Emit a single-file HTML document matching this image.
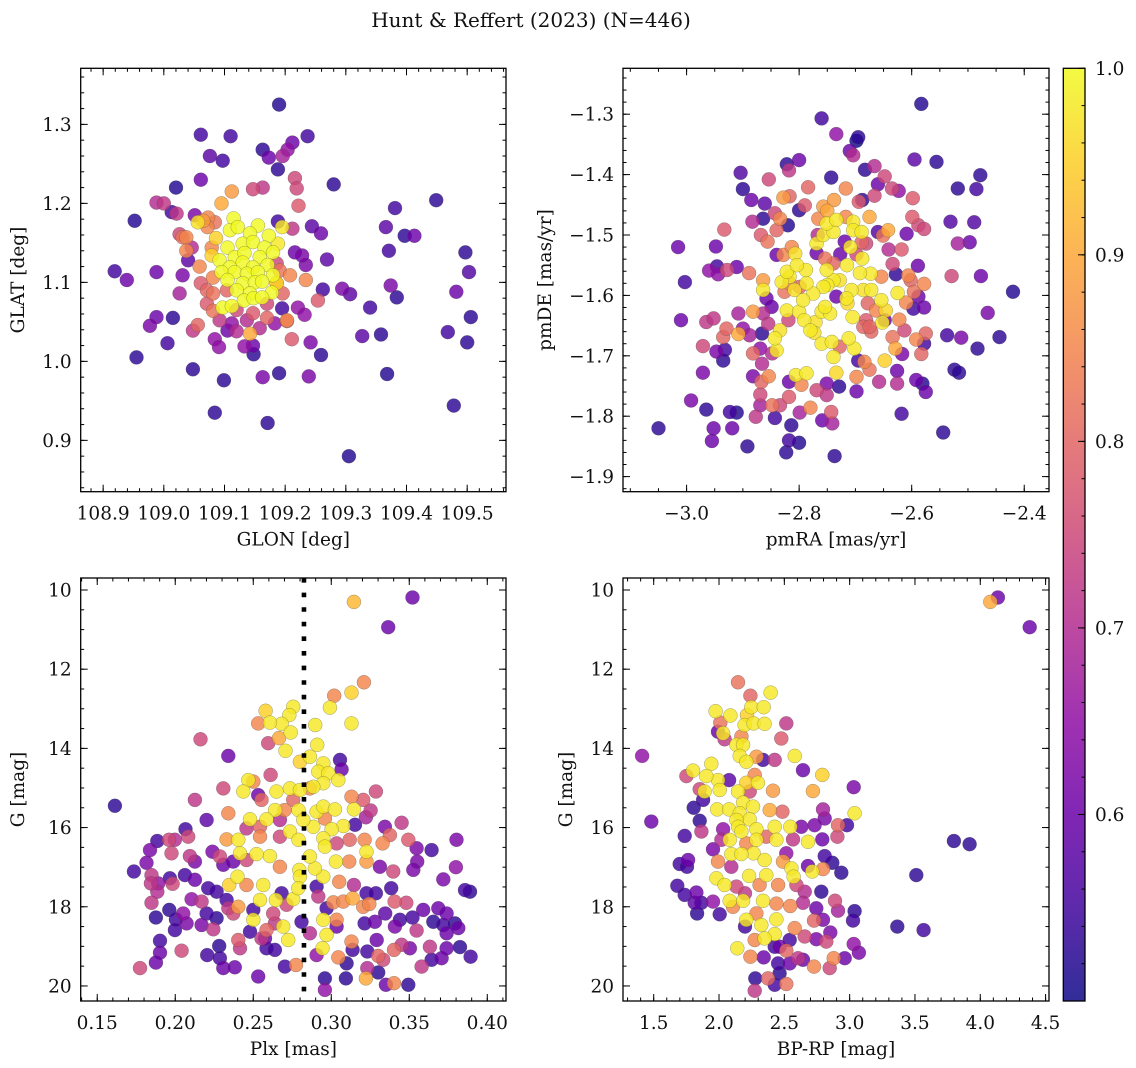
<!DOCTYPE html>
<html><head><meta charset="utf-8">
<style>
html,body{margin:0;padding:0;background:#fff;}
svg{display:block;}
text{font-family:"DejaVu Serif","Liberation Serif",serif;fill:#111;}
</style></head>
<body>
<svg id="fig" width="1136" height="1068" viewBox="0 0 1136 1068" xmlns="http://www.w3.org/2000/svg">
<rect width="1136" height="1068" fill="#fff"/>
<text x="531" y="27" font-size="20" text-anchor="middle">Hunt &amp; Reffert (2023) (N=446)</text>
</svg>
<script>
// ---- data: [x, y, membership probability] ----
const glonGlat = [[109.190,1.325,.52],[109.061,1.287,.55],[109.110,1.285,.55],[109.237,1.285,.55],[109.163,1.268,.53],[109.212,1.277,.6],[109.204,1.268,.65],[109.196,1.26,.68],[109.173,1.258,.6],[109.076,1.26,.58],[109.097,1.254,.55],[109.188,1.243,.53],[109.061,1.23,.6],[109.020,1.22,.52],[109.280,1.224,.53],[109.216,1.232,.75],[109.219,1.219,.75],[109.163,1.22,.72],[109.147,1.218,.75],[109.112,1.215,.88],[109.095,1.2,.9],[109.222,1.197,.78],[108.988,1.201,.7],[109.0,1.2,.72],[108.952,1.178,.52],[109.449,1.204,.53],[109.381,1.194,.55],[109.366,1.17,.58],[109.397,1.159,.53],[109.413,1.159,.6],[109.371,1.14,.55],[109.497,1.138,.53],[109.503,1.113,.57],[109.374,1.096,.62],[109.384,1.081,.53],[109.482,1.088,.6],[109.506,1.056,.53],[109.468,1.037,.55],[109.5,1.024,.53],[109.478,0.944,.53],[109.368,0.984,.52],[109.358,1.034,.53],[109.327,1.032,.58],[109.34,1.068,.55],[109.307,1.085,.58],[109.294,1.092,.62],[109.305,0.88,.52],[108.919,1.114,.55],[108.939,1.103,.6],[108.988,1.113,.6],[109.031,1.109,.62],[109.026,1.086,.68],[108.988,1.056,.6],[108.977,1.045,.62],[109.015,1.055,.53],[109.006,1.023,.55],[108.955,1.005,.53],[109.048,0.99,.53],[109.099,0.976,.53],[109.084,0.935,.53],[109.171,0.922,.53],[109.163,0.98,.62],[109.19,0.985,.53],[109.239,0.981,.62],[109.259,1.008,.53],[109.242,1.024,.62],[109.211,1.028,.78],[109.148,1.009,.53],[109.133,1.019,.65],[109.147,1.02,.6],[109.084,1.028,.65],[109.091,1.018,.65],[109.142,1.035,.9],[109.105,1.039,.6],[109.12,1.038,.7],[109.048,1.039,.72],[109.056,1.046,.8],[109.183,1.048,.65],[109.203,1.051,.8],[109.17,1.055,.8],[109.158,1.042,.7],[109.221,1.068,.65],[109.232,1.059,.65],[109.254,1.077,.78],[109.262,1.091,.55],[109.195,1.067,.55],[109.234,1.103,.85],[109.208,1.109,.85],[109.269,1.129,.58],[109.234,1.122,.62],[109.228,1.134,.62],[109.216,1.138,.6],[109.259,1.162,.6],[109.244,1.171,.58],[109.212,1.168,.72],[109.188,1.177,.55],[109.051,1.185,.62],[109.021,1.187,.72],[109.013,1.189,.55],[109.026,1.161,.75],[109.037,1.157,.85],[109.04,1.128,.58],[109.059,1.12,.85],[109.037,1.14,.85],[109.061,1.099,.78],[109.073,1.182,.85],[109.065,1.178,.88],[109.084,1.176,.82],[109.086,1.156,.95],[109.056,1.176,.97],[109.071,1.09,.8],[109.081,1.086,.82],[109.081,1.064,.82],[109.071,1.073,.78],[109.17,1.073,.75],[109.196,1.086,.8],[109.186,1.099,.88],[109.203,1.052,.85],
[109.115,1.181,1],[109.109,1.166,1],[109.122,1.17,1],[109.155,1.172,1],[109.195,1.17,.98],[109.142,1.162,1],[109.13,1.149,1],[109.173,1.159,1],[109.188,1.149,.98],[109.105,1.144,1],[109.147,1.151,1],[109.166,1.144,1],[109.18,1.138,1],[109.117,1.132,1],[109.133,1.137,1],[109.158,1.132,1],[109.079,1.134,.95],[109.092,1.128,1],[109.13,1.125,1],[109.147,1.119,1],[109.171,1.122,1],[109.109,1.119,1],[109.095,1.113,1],[109.117,1.113,1],[109.137,1.111,1],[109.155,1.113,1],[109.18,1.109,1],[109.105,1.103,1],[109.13,1.099,1],[109.15,1.1,1],[109.162,1.101,1],[109.186,1.099,.95],[109.12,1.09,1],[109.142,1.086,1],[109.178,1.087,1],[109.132,1.077,1],[109.148,1.08,1],[109.097,1.068,1],[109.112,1.07,1],[109.162,1.081,1],
[109.072,1.17,.85],[109.031,1.157,.82],[109.046,1.144,.7],[109.079,1.144,.85],[109.081,1.106,.85],[109.104,1.09,.8],[109.12,1.065,.75],[109.147,1.061,.78],[109.191,1.115,.82],[109.186,1.124,.75],[109.092,1.052,.72],[109.137,1.052,.7],[109.112,1.048,.65]];

const pmRaDe = [[-2.583,-1.283,.52],[-2.76,-1.307,.55],[-2.734,-1.333,.65],[-2.695,-1.338,.53],[-2.698,-1.344,.5],[-2.71,-1.361,.6],[-2.704,-1.368,.7],[-2.822,-1.383,.53],[-2.8,-1.376,.6],[-2.818,-1.393,.72],[-2.904,-1.397,.57],[-2.854,-1.408,.75],[-2.743,-1.405,.53],[-2.9,-1.424,.53],[-2.885,-1.442,.6],[-2.861,-1.448,.58],[-2.595,-1.375,.58],[-2.556,-1.379,.53],[-2.666,-1.386,.7],[-2.683,-1.392,.53],[-2.648,-1.403,.75],[-2.66,-1.416,.6],[-2.635,-1.423,.75],[-2.623,-1.427,.65],[-2.666,-1.435,.75],[-2.598,-1.439,.78],[-2.717,-1.423,.85],[-2.784,-1.421,.8],[-2.817,-1.436,.8],[-2.828,-1.438,.88],[-2.478,-1.401,.53],[-2.518,-1.423,.53],[-2.485,-1.424,.55],[-2.531,-1.478,.57],[-2.489,-1.479,.57],[-2.518,-1.514,.68],[-2.497,-1.512,.6],[-2.529,-1.568,.75],[-2.477,-1.568,.6],[-2.42,-1.594,.52],[-2.465,-1.629,.62],[-2.444,-1.669,.53],[-2.483,-1.688,.53],[-2.537,-1.666,.55],[-2.512,-1.67,.62],[-2.524,-1.723,.53],[-2.516,-1.728,.53],[-2.544,-1.827,.53],[-2.618,-1.796,.55],[-2.575,-1.76,.6],[-2.592,-1.74,.6],[-2.626,-1.746,.7],[-2.626,-1.725,.6],[-2.581,-1.746,.52],[-2.658,-1.743,.7],[-2.698,-1.759,.6],[-2.737,-1.866,.53],[-2.823,-1.86,.53],[-2.818,-1.84,.55],[-2.8,-1.844,.52],[-2.814,-1.815,.53],[-2.843,-1.803,.55],[-2.892,-1.85,.53],[-2.919,-1.82,.6],[-2.952,-1.82,.6],[-2.955,-1.841,.6],[-3.05,-1.82,.53],[-2.965,-1.789,.53],[-2.992,-1.774,.62],[-2.923,-1.793,.55],[-2.911,-1.794,.52],[-2.877,-1.801,.72],[-2.869,-1.782,.68],[-2.869,-1.764,.75],[-2.971,-1.728,.62],[-2.935,-1.708,.53],[-2.947,-1.693,.62],[-2.932,-1.69,.55],[-2.971,-1.684,.75],[-3.01,-1.641,.6],[-2.965,-1.644,.72],[-2.952,-1.638,.72],[-3.003,-1.578,.55],[-3.015,-1.52,.6],[-2.948,-1.519,.6],[-2.96,-1.559,.65],[-2.946,-1.552,.55],[-2.944,-1.565,.65],[-2.928,-1.558,.75],[-2.911,-1.553,.6],[-2.889,-1.563,.82],[-2.933,-1.491,.78],[-2.883,-1.478,.7],[-2.864,-1.473,.53],[-2.868,-1.5,.78],[-2.856,-1.511,.82],[-2.834,-1.473,.85],[-2.82,-1.484,.52],[-2.843,-1.464,.75],[-2.84,-1.492,.8],[-2.8,-1.459,.53],[-2.79,-1.451,.78],[-2.757,-1.453,.88],[-2.738,-1.442,.88],[-2.75,-1.46,.9],[-2.694,-1.445,.78],[-2.688,-1.442,.53],[-2.675,-1.47,.9],[-2.66,-1.495,.57],[-2.651,-1.501,.82],[-2.642,-1.492,.9],[-2.609,-1.498,.6],[-2.599,-1.47,.78],[-2.588,-1.484,.75],[-2.578,-1.49,.75],[-2.641,-1.524,.7],[-2.618,-1.524,.78],[-2.589,-1.551,.6],[-2.634,-1.548,.75],[-2.628,-1.565,.53],[-2.606,-1.567,.85],[-2.602,-1.575,.8],[-2.578,-1.581,.85],[-2.596,-1.594,.82],[-2.588,-1.602,.6],[-2.625,-1.596,.98],[-2.61,-1.612,.85],[-2.597,-1.622,.55],[-2.578,-1.62,.6],[-2.622,-1.64,.85],[-2.613,-1.658,.75],[-2.575,-1.663,.8],[-2.592,-1.673,.85],[-2.578,-1.68,.55],[-2.583,-1.697,.8],[-2.617,-1.697,.62],[-2.629,-1.688,.9],[-2.634,-1.669,.82],[-2.648,-1.708,.95],[-2.648,-1.641,.6],[-2.652,-1.645,.98],[-2.672,-1.66,.8],[-2.686,-1.652,.8],[-2.695,-1.708,.55],[-2.684,-1.71,.85],[-2.675,-1.723,.82],[-2.698,-1.735,.85],[-2.734,-1.728,.96],[-2.729,-1.751,.53],[-2.751,-1.746,.62],[-2.751,-1.765,.72],[-2.769,-1.757,.75],[-2.743,-1.793,.78],[-2.741,-1.812,.68],[-2.759,-1.807,.6],[-2.78,-1.786,.85],[-2.799,-1.794,.68],[-2.818,-1.768,.78],[-2.834,-1.782,.75],[-2.848,-1.782,.82],[-2.818,-1.743,.6],[-2.796,-1.748,.85],[-2.806,-1.732,.98],[-2.787,-1.729,.98],[-2.854,-1.734,.85],[-2.882,-1.734,.62],[-2.867,-1.743,.8],[-2.866,-1.713,.7],[-2.882,-1.696,.8],[-2.869,-1.688,.65],[-2.848,-1.696,.7],[-2.84,-1.691,.98],[-2.843,-1.671,.98],[-2.834,-1.658,.97],[-2.866,-1.663,.53],[-2.888,-1.666,.68],[-2.908,-1.664,.9],[-2.935,-1.669,.8],[-2.929,-1.655,.8],[-2.9,-1.655,.65],[-2.908,-1.63,.68],[-2.882,-1.627,.88],[-2.864,-1.63,.7],[-2.855,-1.647,.72],[-2.822,-1.625,.98],[-2.8,-1.627,.98],[-2.791,-1.641,.98],[-2.78,-1.658,.98],[-2.771,-1.644,.97],[-2.76,-1.627,.98],[-2.745,-1.63,.98],[-2.754,-1.619,.98],[-2.773,-1.662,.97],[-2.76,-1.68,.98],[-2.742,-1.677,.98],[-2.739,-1.702,.98],[-2.728,-1.685,.8],[-2.702,-1.688,.98],[-2.712,-1.671,.98],[-2.714,-1.613,.96],[-2.705,-1.636,.98],[-2.681,-1.641,.78],[-2.675,-1.652,.8],[-2.654,-1.608,.98],[-2.646,-1.625,.96],[-2.663,-1.625,.85],[-2.678,-1.613,.8],[-2.686,-1.591,.97],[-2.672,-1.591,.98],[-2.673,-1.564,.98],[-2.692,-1.563,.98],[-2.654,-1.569,.85],[-2.707,-1.591,.98],[-2.716,-1.605,.98],[-2.734,-1.602,.6],[-2.728,-1.575,.97],[-2.739,-1.575,.98],[-2.75,-1.583,.98],[-2.757,-1.586,.98],[-2.775,-1.597,.98],[-2.793,-1.608,.98],[-2.808,-1.591,.97],[-2.787,-1.58,.98],[-2.799,-1.586,.8],[-2.817,-1.58,.85],[-2.826,-1.594,.82],[-2.817,-1.569,.98],[-2.831,-1.578,.98],[-2.822,-1.561,.98],[-2.788,-1.558,.98],[-2.804,-1.55,.98],[-2.807,-1.531,.97],[-2.828,-1.533,.85],[-2.813,-1.52,.85],[-2.84,-1.533,.6],[-2.864,-1.575,.88],[-2.864,-1.591,.98],[-2.858,-1.605,.6],[-2.849,-1.619,.6],[-2.819,-1.641,.75],[-2.769,-1.53,.6],[-2.751,-1.558,.98],[-2.739,-1.547,.8],[-2.754,-1.539,.82],[-2.715,-1.55,.98],[-2.709,-1.52,.98],[-2.727,-1.532,.6],[-2.698,-1.532,.75],[-2.688,-1.539,.98],[-2.681,-1.514,.75],[-2.769,-1.514,.98],[-2.757,-1.5,.98],[-2.739,-1.495,.98],[-2.751,-1.481,.98],[-2.734,-1.475,.98],[-2.717,-1.47,.85],[-2.704,-1.478,.98],[-2.704,-1.492,.98],[-2.689,-1.495,.98],[-2.689,-1.512,.8],[-2.719,-1.511,.6],[-2.767,-1.5,.7],[-2.766,-1.473,.85]];

const plxG = [[0.1613,15.45,.53],[0.3521,10.19,.6],[0.3145,10.30,.92],[0.3365,10.94,.6],[0.3209,12.33,.85],[0.313,12.59,.95],[0.313,13.37,.98],[0.3019,12.67,.85],[0.2991,12.97,.98],[0.2897,13.41,.98],[0.291,13.91,.98],[0.2579,13.05,.95],[0.2756,12.95,.98],[0.2731,13.16,.98],[0.2682,13.38,.98],[0.2607,13.35,.98],[0.2532,13.37,.85],[0.274,13.6,.98],[0.2665,13.74,.9],[0.2596,13.87,.75],[0.2707,14.06,.98],[0.2162,13.77,.75],[0.234,14.19,.6],[0.2799,14.34,.95],[0.2863,14.21,.98],[0.2949,14.38,.98],[0.3056,14.29,.55],[0.3066,14.53,.6],[0.2917,14.59,.98],[0.2981,14.63,.98],[0.3045,14.8,.98],[0.2949,14.88,.98],[0.2885,14.97,.98],[0.2863,15.01,.85],[0.2611,14.67,.75],[0.2468,14.8,.98],[0.25,14.84,.85],[0.2436,15.09,.98],[0.2308,15.01,.75],[0.2126,15.3,.72],[0.2649,15.09,.98],[0.2735,15.01,.98],[0.2799,15.05,.98],[0.2756,15.3,.8],[0.2553,15.3,.8],[0.2532,15.18,.6],[0.264,15.56,.98],[0.2701,15.56,.85],[0.279,15.56,.98],[0.2906,15.6,.98],[0.2949,15.47,.98],[0.3023,15.54,.98],[0.3145,15.54,.98],[0.313,15.22,.85],[0.3205,15.3,.78],[0.3286,15.09,.75],[0.3252,15.57,.72],[0.3222,15.74,.68],[0.3152,15.93,.55],[0.3077,15.96,.98],[0.3002,16.04,.98],[0.2959,15.77,.85],[0.2885,15.98,.98],[0.2821,15.81,.98],[0.2735,16.1,.98],[0.2671,15.81,.7],[0.2585,15.79,.98],[0.2479,15.79,.98],[0.2457,16.02,.72],[0.2543,15.98,.8],[0.234,15.64,.85],[0.2201,15.81,.58],[0.2066,16.04,.55],[0.2083,16.23,.75],[0.196,16.31,.75],[0.1997,16.31,.7],[0.1885,16.34,.55],[0.2404,16.31,.98],[0.2329,16.3,.88],[0.2543,16.23,.85],[0.2671,16.23,.75],[0.279,16.31,.98],[0.2949,16.27,.98],[0.2959,16.48,.98],[0.3034,16.4,.75],[0.3118,16.31,.8],[0.3214,16.31,.85],[0.3329,16.4,.85],[0.3376,16.19,.8],[0.3344,15.98,.62],[0.3451,15.88,.72],[0.3494,16.31,.78],[0.3547,16.52,.62],[0.3643,16.57,.55],[0.3803,16.31,.62],[0.3551,16.86,.62],[0.3526,17.07,.62],[0.3799,17.0,.65],[0.3718,17.31,.62],[0.3857,17.58,.55],[0.3889,17.62,.53],[0.3397,17.11,.75],[0.3312,16.99,.62],[0.3226,16.86,.88],[0.3226,16.61,.98],[0.3115,16.86,.85],[0.303,16.86,.98],[0.2949,17.24,.98],[0.2895,17.03,.98],[0.2863,16.73,.98],[0.2795,17.07,.98],[0.2799,17.24,.98],[0.2671,16.99,.85],[0.2607,16.72,.98],[0.2521,16.67,.98],[0.2415,16.65,.98],[0.2457,16.82,.75],[0.2372,16.86,.6],[0.2308,16.94,.6],[0.2286,16.73,.75],[0.2239,16.61,.62],[0.2126,16.86,.62],[0.2094,16.72,.72],[0.1976,16.65,.75],[0.1838,16.57,.62],[0.1816,16.89,.62],[0.1735,17.11,.55],[0.1848,17.2,.72],[0.1844,17.41,.72],[0.1891,17.41,.65],[0.1966,17.28,.55],[0.1983,17.42,.75],[0.2062,17.2,.55],[0.2126,17.32,.6],[0.1848,17.9,.72],[0.1885,17.62,.7],[0.1962,18.08,.53],[0.1876,18.27,.53],[0.2004,18.32,.55],[0.2051,18.17,.65],[0.2073,18.42,.62],[0.2105,17.81,.65],[0.2169,17.87,.72],[0.2211,17.53,.55],[0.2265,17.62,.55],[0.2201,18.17,.55],[0.2265,18.29,.53],[0.2169,18.46,.62],[0.2244,18.57,.72],[0.1998,18.59,.55],[0.1902,18.86,.55],[0.1902,19.16,.6],[0.1876,19.41,.6],[0.1774,19.55,.75],[0.2041,19.11,.75],[0.2205,19.22,.55],[0.2282,18.99,.53],[0.2286,19.3,.55],[0.2308,19.55,.6],[0.2382,19.53,.6],[0.2532,19.76,.6],[0.234,18.04,.72],[0.2329,17.83,.55],[0.2404,18.0,.88],[0.2346,17.45,.95],[0.2399,17.24,.98],[0.2457,17.45,.85],[0.25,18.08,.55],[0.2543,17.83,.98],[0.25,18.33,.98],[0.2479,18.63,.55],[0.2575,18.8,.6],[0.2585,19.05,.55],[0.2639,19.09,.55],[0.2628,18.17,.75],[0.2645,17.83,.98],[0.2682,17.66,.55],[0.2564,17.45,.98],[0.2714,17.95,.75],[0.2692,18.5,.98],[0.2724,18.84,.98],[0.2703,19.51,.55],[0.2774,19.47,.85],[0.2756,17.81,.98],[0.2788,17.53,.98],[0.2809,18.38,.55],[0.2863,18.67,.7],[0.2906,17.49,.55],[0.2917,17.74,.72],[0.2949,18.33,.98],[0.297,18.71,.98],[0.2944,19.05,.98],[0.2906,19.22,.65],[0.2959,19.81,.53],[0.2959,20.1,.65],[0.297,18.04,.55],[0.3013,17.89,.85],[0.3034,18.33,.85],[0.3034,18.5,.6],[0.3045,19.28,.85],[0.3098,19.43,.53],[0.3094,19.81,.53],[0.313,18.88,.85],[0.3137,19.09,.55],[0.3077,17.87,.85],[0.3137,17.79,.9],[0.3145,17.45,.7],[0.3051,17.37,.85],[0.3205,18.0,.85],[0.3244,17.93,.85],[0.3214,18.42,.55],[0.3226,17.66,.55],[0.3286,17.66,.55],[0.328,18.38,.6],[0.3231,19.13,.55],[0.3291,18.84,.6],[0.3301,19.24,.8],[0.3333,19.34,.75],[0.3231,19.55,.7],[0.3222,19.81,.9],[0.3301,19.66,.53],[0.335,19.97,.6],[0.3402,19.93,.85],[0.3494,19.97,.53],[0.3402,19.09,.8],[0.3451,18.96,.72],[0.3504,19.05,.62],[0.3547,18.6,.72],[0.3521,18.27,.55],[0.3589,18.08,.6],[0.3406,17.87,.78],[0.3481,17.9,.75],[0.3384,17.53,.55],[0.3346,18.17,.58],[0.3654,18.38,.53],[0.3686,18.04,.6],[0.3739,18.17,.6],[0.3718,18.46,.55],[0.3739,18.67,.6],[0.3793,18.42,.53],[0.3814,18.54,.6],[0.3632,19.01,.72],[0.3643,19.34,.55],[0.3707,19.3,.6],[0.3739,19.05,.6],[0.3825,19.02,.53],[0.3893,19.26,.55],[0.3579,19.51,.72],[0.3408,18.5,.62],[0.344,18.33,.55],[0.2585,18.59,.8],[0.2639,18.42,.72],[0.2553,18.8,.72],[0.2404,18.84,.78],[0.2415,19.05,.72],[0.2372,18.17,.75]];

const colorG = [[4.135,10.19,.6],[4.077,10.3,.9],[4.378,10.94,.6],[1.411,14.19,.65],[1.482,15.85,.6],[3.798,16.34,.53],[3.918,16.42,.53],[3.51,17.2,.53],[3.365,18.5,.53],[3.566,18.59,.55],[2.145,12.33,.82],[2.24,12.67,.8],[2.395,12.59,.98],[1.974,13.06,.98],[2.087,13.17,.98],[2.247,12.96,.98],[2.342,12.96,.98],[2.214,13.16,.95],[2.196,13.41,.98],[2.265,13.37,.98],[2.349,13.38,.98],[2.515,13.37,.72],[2.01,13.35,.82],[1.992,13.58,.6],[2.031,13.62,.98],[2.043,13.77,.72],[2.477,13.75,.78],[2.171,13.7,.85],[2.133,13.91,.98],[2.184,13.91,.98],[2.158,14.19,.98],[2.286,14.21,.88],[2.337,14.29,.55],[2.426,14.29,.72],[2.579,14.19,.98],[2.209,14.34,.98],[2.643,14.55,.6],[2.791,14.67,.95],[1.941,14.39,.98],[1.801,14.56,.98],[1.75,14.7,.75],[2.077,14.8,.58],[1.992,14.8,.98],[1.903,14.7,.98],[2.005,15.05,.98],[1.852,15.03,.75],[1.89,15.09,.98],[2.273,14.67,.85],[2.298,14.87,.98],[2.209,14.87,.95],[2.145,15.09,.98],[2.235,15.09,.75],[2.413,15.07,.88],[2.719,15.08,.9],[3.031,14.98,.62],[1.878,15.3,.55],[1.806,15.5,.53],[1.852,15.83,.53],[1.865,16.1,.72],[1.737,16.21,.55],[1.985,15.54,.98],[2.077,15.54,.98],[2.184,15.37,.98],[2.26,15.47,.98],[2.388,15.56,.9],[2.485,15.6,.8],[2.158,15.64,.98],[2.235,15.79,.98],[2.133,15.81,.98],[2.145,15.98,.98],[2.171,16.1,.98],[2.031,16.04,.65],[2.018,16.31,.7],[2.082,16.31,.98],[2.286,16.04,.98],[2.426,15.98,.98],[2.546,15.98,.98],[2.63,15.98,.62],[2.732,15.94,.62],[2.796,15.54,.68],[2.809,15.77,.62],[2.911,15.94,.8],[2.98,15.94,.55],[3.038,15.64,.98],[2.906,16.23,.75],[2.791,16.3,.6],[2.681,16.36,.98],[2.566,16.3,.72],[2.439,16.31,.98],[2.362,16.23,.8],[2.286,16.31,.98],[2.209,16.4,.85],[2.265,16.65,.98],[2.094,16.67,.98],[2.171,16.67,.98],[1.954,16.55,.62],[1.763,16.82,.6],[1.699,16.92,.55],[1.755,16.99,.55],[1.992,16.86,.85],[2.349,16.82,.98],[2.49,16.86,.88],[2.515,16.65,.65],[2.809,16.72,.55],[2.867,16.89,.53],[2.681,16.97,.6],[2.796,17.05,.85],[2.714,17.11,.98],[2.936,17.14,.53],[2.554,17.03,.98],[2.571,17.24,.98],[2.362,17.2,.98],[2.23,17.22,.98],[2.094,16.99,.7],[1.98,17.28,.98],[2.043,17.45,.98],[2.133,17.49,.75],[2.311,17.45,.85],[2.452,17.45,.85],[2.592,17.45,.75],[2.656,17.62,.7],[2.783,17.62,.53],[1.681,17.47,.55],[1.737,17.7,.55],[1.827,17.64,.6],[1.814,17.9,.58],[1.865,17.9,.55],[1.832,18.17,.53],[1.954,17.87,.65],[2.005,18.19,.55],[2.082,17.85,.98],[2.184,17.85,.98],[2.107,18.0,.85],[2.199,17.66,.72],[2.337,17.85,.98],[2.439,17.92,.85],[2.546,17.98,.85],[2.643,17.9,.7],[2.745,18.04,.6],[2.888,17.85,.75],[2.911,18.1,.68],[3.038,18.11,.53],[3.026,18.35,.55],[2.796,18.33,.62],[2.727,18.35,.8],[2.579,18.54,.85],[2.439,18.32,.98],[2.324,18.46,.98],[2.209,18.33,.98],[2.286,18.17,.85],[2.199,18.5,.55],[2.426,18.69,.98],[2.349,18.8,.98],[2.273,18.84,.85],[2.541,18.84,.55],[2.656,18.75,.75],[2.745,18.82,.62],[2.821,18.88,.75],[2.852,18.65,.62],[3.031,18.94,.65],[3.071,19.16,.62],[2.962,19.3,.6],[2.878,19.3,.85],[2.847,19.55,.75],[2.727,19.51,.85],[2.643,19.34,.6],[2.515,19.11,.8],[2.464,19.01,.6],[2.426,19.01,.55],[2.342,19.28,.6],[2.24,19.26,.85],[2.14,19.05,.98],[2.452,19.43,.55],[2.541,19.43,.6],[2.464,19.68,.53],[2.375,19.81,.8],[2.278,19.81,.53],[2.426,19.97,.55],[2.515,19.95,.82],[2.273,20.12,.72],[2.605,19.3,.72]];

const plxCut = 0.2825;
const cbTicks = [0.6, 0.7, 0.8, 0.9, 1.0];
const cbMin = 0.5, cbMax = 1.0;

// ---- plasma colormap ----
const plasmaStops = ['#0d0887','#41049d','#6a00a8','#8f0da4','#b12a90','#cc4778','#e16462','#f2844b','#fca636','#fcce25','#f0f921'];
function hex2rgb(h){return [parseInt(h.slice(1,3),16),parseInt(h.slice(3,5),16),parseInt(h.slice(5,7),16)];}
function plasma(t){
  t=Math.max(0,Math.min(1,t));
  const s=t*10, i=Math.min(9,Math.floor(s)), f=s-i;
  const a=hex2rgb(plasmaStops[i]), b=hex2rgb(plasmaStops[i+1]);
  return 'rgb('+a.map((v,k)=>Math.round(v+(b[k]-v)*f)).join(',')+')';
}
const NS='http://www.w3.org/2000/svg';
const svg=document.getElementById('fig');
function el(tag,attrs,parent){const e=document.createElementNS(NS,tag);for(const k in attrs)e.setAttribute(k,attrs[k]);(parent||svg).appendChild(e);return e;}
function fmt(v,d){const s=Math.abs(v).toFixed(d);return (v<-1e-9?'\u2212':'')+s;}
const FS=18.5;

function panel(cfg){
  const g=el('g',{});
  
  
  const [L,T,R,B]=cfg.box;
  const sx=v=>L+(v-cfg.xd[0])/(cfg.xd[1]-cfg.xd[0])*(R-L);
  const sy=cfg.yInv ? (v=>T+(v-cfg.yd[0])/(cfg.yd[1]-cfg.yd[0])*(B-T)) : (v=>B-(v-cfg.yd[0])/(cfg.yd[1]-cfg.yd[0])*(B-T));
  const cid='clip-'+cfg.name;
  const cp=el('clipPath',{id:cid},g); el('rect',{x:L,y:T,width:R-L,height:B-T},cp);
  const pts=el('g',{'clip-path':'url(#'+cid+')'},g);
  
  
  const sorted=cfg.data.slice().sort((a,b)=>a[2]-b[2]);
  sorted.forEach(d=>{
    const c=el('circle',{cx:sx(d[0]).toFixed(1),cy:sy(d[1]).toFixed(1),r:7,fill:plasma((d[2]-cbMin)/(cbMax-cbMin)),'fill-opacity':0.82,stroke:'rgba(70,70,70,0.55)','stroke-width':0.45},pts);
    
    
  });
  if(cfg.vline!==undefined){
    const ln=el('line',{x1:sx(cfg.vline),x2:sx(cfg.vline),y1:T,y2:B,stroke:'#000','stroke-width':4.6,'stroke-dasharray':'4.6 10'},g);
    
    
  }
  const tk=el('g',{stroke:'#000','stroke-width':1},g);
  const eps=1e-9;
  function range(a,b,s){const r=[];const n0=Math.ceil(a/s-eps),n1=Math.floor(b/s+eps);for(let n=n0;n<=n1;n++)r.push(+(n*s).toFixed(6));return r;}
  range(cfg.xd[0],cfg.xd[1],cfg.xmin).forEach(v=>{const x=sx(v);el('line',{x1:x,x2:x,y1:B,y2:B-3.5},tk);el('line',{x1:x,x2:x,y1:T,y2:T+3.5},tk);});
  range(cfg.yd[0],cfg.yd[1],cfg.ymin).forEach(v=>{const y=sy(v);el('line',{x1:L,x2:L+3.5,y1:y,y2:y},tk);el('line',{x1:R,x2:R-3.5,y1:y,y2:y},tk);});
  cfg.xt.forEach(v=>{const x=sx(v);el('line',{x1:x,x2:x,y1:B,y2:B-7},tk);el('line',{x1:x,x2:x,y1:T,y2:T+7},tk);
    const t=el('text',{x:x,y:B+28,'font-size':FS,'text-anchor':'middle'},g);t.textContent=fmt(v,cfg.xdec);
    
    });
  cfg.yt.forEach(v=>{const y=sy(v);el('line',{x1:L,x2:L+7,y1:y,y2:y},tk);el('line',{x1:R,x2:R-7,y1:y,y2:y},tk);
    const t=el('text',{x:L-9,y:y+6.5,'font-size':FS,'text-anchor':'end'},g);t.textContent=fmt(v,cfg.ydec);
    
    });
  const fr=el('rect',{x:L,y:T,width:R-L,height:B-T,fill:'none',stroke:'#000','stroke-width':1.3},g);
  
  
  const xl=el('text',{x:(L+R)/2,y:B+54,'font-size':FS,'text-anchor':'middle'},g);xl.textContent=cfg.xlabel;
  
  
  const yc=(T+B)/2;
  const yl=el('text',{x:cfg.ylx,y:yc,'font-size':FS,'text-anchor':'middle',transform:'rotate(-90 '+cfg.ylx+' '+yc+')'},g);yl.textContent=cfg.ylabel;
  
  
}

panel({name:'glon-glat-panel',box:[80.7,68.3,506,491.7],xd:[108.863,109.564],yd:[0.835,1.371],xt:[108.9,109.0,109.1,109.2,109.3,109.4,109.5],yt:[0.9,1.0,1.1,1.2,1.3],xmin:0.02,ymin:0.02,xdec:1,ydec:1,data:glonGlat,xlabel:'GLON [deg]',ylabel:'GLAT [deg]',ylx:24});
panel({name:'proper-motion-panel',box:[623,68.3,1049,491.7],xd:[-3.113,-2.356],yd:[-1.925,-1.224],xt:[-3.0,-2.8,-2.6,-2.4],yt:[-1.9,-1.8,-1.7,-1.6,-1.5,-1.4,-1.3],xmin:0.05,ymin:0.02,xdec:1,ydec:1,data:pmRaDe,xlabel:'pmRA [mas/yr]',ylabel:'pmDE [mas/yr]',ylx:551});
panel({name:'parallax-mag-panel',box:[80.7,578,506,1001],xd:[0.1394,0.412],yd:[9.697,20.38],yInv:true,xt:[0.15,0.20,0.25,0.30,0.35,0.40],yt:[10,12,14,16,18,20],xmin:0.01,ymin:0.5,xdec:2,ydec:0,data:plxG,xlabel:'Plx [mas]',ylabel:'G [mag]',ylx:24,vline:plxCut});
panel({name:'cmd-panel',box:[623,578,1049,1001],xd:[1.265,4.526],yd:[9.697,20.38],yInv:true,xt:[1.5,2.0,2.5,3.0,3.5,4.0,4.5],yt:[10,12,14,16,18,20],xmin:0.1,ymin:0.5,xdec:1,ydec:0,data:colorG,xlabel:'BP-RP [mag]',ylabel:'G [mag]',ylx:572});

// ---- colorbar ----
(function(){
  const L=1063.3,R=1085,T=68.3,B=1001;
  const cb=el('g',{});
  
  
  const defs=el('defs',{},cb);
  const lg=el('linearGradient',{id:'cbgrad',x1:0,y1:1,x2:0,y2:0},defs);
  for(let i=0;i<=20;i++){el('stop',{offset:(i/20),'stop-color':plasma(i/20),'stop-opacity':0.85},lg);}
  el('rect',{x:L,y:T,width:R-L,height:B-T,fill:'url(#cbgrad)'},cb);
  const sy=v=>B-(v-cbMin)/(cbMax-cbMin)*(B-T);
  const tk=el('g',{stroke:'#000','stroke-width':1},cb);
  for(let n=26;n<=50;n++){const v=n/50;const y=sy(v);el('line',{x1:R,x2:R-3.5,y1:y,y2:y},tk);}
  cbTicks.forEach(v=>{const y=sy(v);el('line',{x1:R,x2:R-7,y1:y,y2:y},tk);
    const t=el('text',{x:R+10,y:y+6.5,'font-size':FS},cb);t.textContent=v.toFixed(1);
    
    });
  el('rect',{x:L,y:T,width:R-L,height:B-T,fill:'none',stroke:'#000','stroke-width':1.3},cb);
})();
</script>
</body></html>
